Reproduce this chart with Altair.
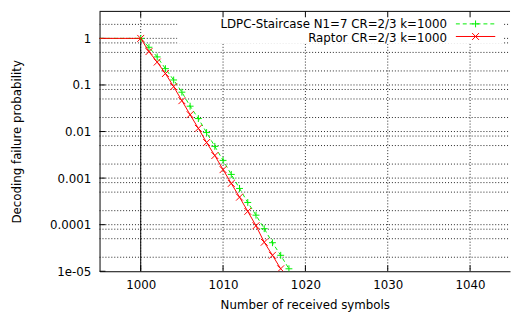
import altair as alt
import pandas as pd

# ---- data ----
series_names = ["LDPC-Staircase N1=7 CR=2/3 k=1000", "Raptor CR=2/3 k=1000"]
n_ldpc = list(range(1000, 1019))
p_ldpc = [1.0, 0.645, 0.40, 0.224, 0.128, 0.07, 0.035, 0.019, 0.0095, 0.0048,
          0.0024, 0.0012, 0.0006, 0.0003, 0.00016, 8.2e-5, 4.1e-5, 2.2e-5, 1.13e-5]
n_raptor = list(range(1000, 1018))
p_raptor = [1.0, 0.52, 0.31, 0.176, 0.092, 0.046, 0.023, 0.0117, 0.0058, 0.00305,
            0.00152, 0.00077, 0.00039, 0.000193, 9.5e-5, 4.2e-5, 2.2e-5, 1.13e-5]
lead_in_n = [990]
lead_in_p = [1.0]

x_ticks = [1000, 1010, 1020, 1030, 1040]
y_ticks = [1, 0.1, 0.01, 0.001, 0.0001, 0.00001]
y_grid = [2, 1, 0.8, 0.5, 0.2, 0.1, 0.08, 0.05, 0.02, 0.01, 0.008, 0.005, 0.002,
          0.001, 0.0008, 0.0005, 0.0002, 0.0001, 8e-5, 5e-5, 2e-5]
marker_at_n = [1000]
marker_at_p = [1.0]

# ---- layout ----
W, H = 417, 264
FONT = "DejaVu Sans"
FS = 12
RED = "#ff0000"
GREEN = "#00ee00"
PLUS = "M-1,0L1,0M0,-1L0,1"
CROSS = "M-1,-1L1,1M-1,1L1,-1"

xs = alt.Scale(domain=[995, 1044.85], nice=False, zero=False)
ys = alt.Scale(type="log", domain=[1e-5, 3.8], nice=False)

x_axis = alt.Axis(values=x_ticks, format="d", title="Number of received symbols",
                  tickSize=0, grid=False, domainColor="black", domainWidth=1,
                  labelPadding=18, labelBaseline="alphabetic",
                  titleBaseline="alphabetic", titleY=37.5,
                  labelFont=FONT, labelFontSize=FS, labelColor="black",
                  titleFont=FONT, titleFontSize=FS, titleColor="black", titleFontWeight="normal")
y_axis = alt.Axis(values=y_ticks,
                  labelExpr="datum.value < 5e-5 ? '1e-05' : format(datum.value, '~g')",
                  title="Decoding failure probability", tickSize=0, grid=False,
                  domainColor="black", domainWidth=1, labelPadding=9,
                  titleX=-77, titleY=H / 2, titleBaseline="bottom",
                  labelFont=FONT, labelFontSize=FS, labelColor="black",
                  titleFont=FONT, titleFontSize=FS, titleColor="black", titleFontWeight="normal")

def X(f="x:Q"):
    return alt.X(f, scale=xs, axis=x_axis)

def Y(f="y:Q"):
    return alt.Y(f, scale=ys, axis=y_axis)

ldpc = pd.DataFrame({"x": lead_in_n + n_ldpc, "y": lead_in_p + p_ldpc})
raptor = pd.DataFrame({"x": lead_in_n + n_raptor, "y": lead_in_p + p_raptor})
ldpc_pts = pd.DataFrame({"x": n_ldpc, "y": p_ldpc})
raptor_pts = pd.DataFrame({"x": n_raptor, "y": p_raptor})
vgrid = pd.DataFrame({"x": x_ticks})
hgrid = pd.DataFrame({"y": y_grid})
yt = pd.DataFrame({"y": y_ticks})
solid_1000 = pd.DataFrame({"x": marker_at_n, "y": marker_at_p, "y2": [1e-5]})
one = pd.DataFrame({"a": [0]})

grid_style = dict(color="#222222", strokeDash=[1, 2], strokeWidth=1)

v_lines = alt.Chart(vgrid).mark_rule(**grid_style).encode(
    x=X(), y=alt.value(0), y2=alt.value(H))
h_lines = alt.Chart(hgrid).mark_rule(**grid_style).encode(
    y=Y(), x=alt.value(0), x2=alt.value(W))

key_box = alt.Chart(one).mark_rect(color="white").encode(
    x=alt.value(79), x2=alt.value(410), y=alt.value(0), y2=alt.value(33))

solid_line = alt.Chart(solid_1000).mark_rule(color="black", strokeWidth=1).encode(
    x=X(), y=Y(), y2="y2:Q")

tick_bottom = alt.Chart(vgrid).mark_rule(color="black").encode(
    x=X(), y=alt.value(H - 6), y2=alt.value(H))
tick_top = alt.Chart(vgrid).mark_rule(color="black").encode(
    x=X(), y=alt.value(0), y2=alt.value(6))
tick_left = alt.Chart(yt).mark_rule(color="black").encode(
    y=Y(), x=alt.value(0), x2=alt.value(6))

top_border = alt.Chart(one).mark_rule(color="black").encode(
    x=alt.value(0), x2=alt.value(W), y=alt.value(0))

# legend (key) drawn like gnuplot's
key_text = alt.Chart(pd.DataFrame({"t": series_names, "yy": [16.5, 31]})).mark_text(
    align="right", baseline="alphabetic", font=FONT, fontSize=FS, color="black").encode(
    text="t:N", x=alt.value(353), y=alt.Y("yy:Q", scale=None))
key_l1 = alt.Chart(one).mark_rule(color=GREEN, strokeDash=[4, 3]).encode(
    x=alt.value(362), x2=alt.value(402), y=alt.value(12.7))
key_l2 = alt.Chart(one).mark_rule(color=RED).encode(
    x=alt.value(362), x2=alt.value(402), y=alt.value(25.5))
key_p1 = alt.Chart(one).mark_point(
    shape=PLUS, size=49, color=GREEN, filled=False, strokeWidth=1, opacity=1).encode(
    x=alt.value(382), y=alt.value(12.7))
key_p2 = alt.Chart(one).mark_point(
    shape=CROSS, size=49, color=RED, filled=False, strokeWidth=1, opacity=1).encode(
    x=alt.value(382), y=alt.value(25.5))

ldpc_line = alt.Chart(ldpc).mark_line(color=GREEN, strokeDash=[4, 3], strokeWidth=1, clip=True).encode(
    x=X(), y=Y())
raptor_line = alt.Chart(raptor).mark_line(color=RED, strokeWidth=1, clip=True).encode(
    x=X(), y=Y())
ldpc_p = alt.Chart(ldpc_pts).mark_point(shape=PLUS, size=49, color=GREEN, filled=False,
                                        strokeWidth=1, opacity=1, clip=True).encode(
    x=X(), y=Y())
raptor_p = alt.Chart(raptor_pts).mark_point(shape=CROSS, size=49, color=RED, filled=False,
                                            strokeWidth=1, opacity=1, clip=True).encode(
    x=X(), y=Y())

chart = alt.layer(
    v_lines, h_lines, key_box, solid_line, tick_bottom, tick_top, tick_left, top_border,
    key_text, key_l1, key_l2, key_p1, key_p2,
    ldpc_line, ldpc_p, raptor_line, raptor_p,
).properties(
    width=W, height=H,
    background="white",
    autosize=alt.AutoSizeParams(type="none"),
    padding={"left": 93, "top": 1, "right": 1, "bottom": 42},
).configure_view(stroke=None)

chart.save("out.html", embed_options={"renderer": "svg", "actions": False})
